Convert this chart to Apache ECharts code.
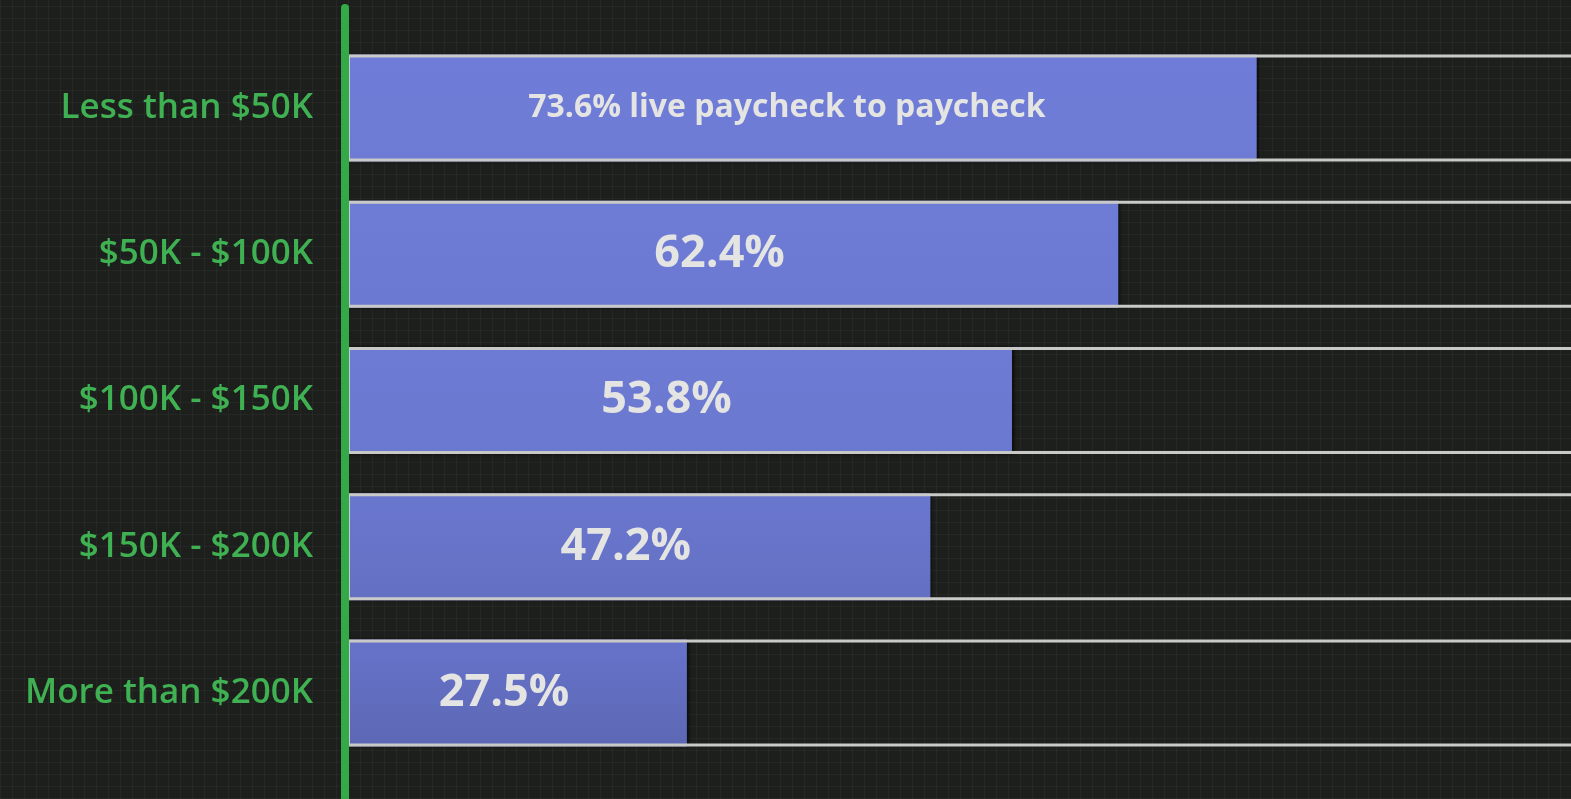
<!DOCTYPE html>
<html>
<head>
<meta charset="utf-8">
<script src="https://cdn.jsdelivr.net/npm/echarts@6/dist/echarts.min.js"></script>
<style>
  html, body { margin: 0; padding: 0; }
  body {
    width: 1571px;
    height: 799px;
    background-color: #1d1f1c;
    background-image:
      repeating-linear-gradient(0deg, rgba(255,255,255,0.035) 0 1px, transparent 1px 12px),
      repeating-linear-gradient(90deg, rgba(255,255,255,0.035) 0 1px, transparent 1px 12px);
  }
  #main { width: 1571px; height: 799px; }
</style>
</head>
<body>
<div id="main"></div>
<script>
// income brackets, top to bottom
const incomeBands = ["Less than $50K", "$50K - $100K", "$100K - $150K", "$150K - $200K", "More than $200K"];
// share living paycheck to paycheck (%)
const paycheckShare = [73.6, 62.4, 53.8, 47.2, 27.5];
// extra wording after the value, only the first bar has it
const shareNotes = [" live paycheck to paycheck", "", "", "", ""];
// full track behind each bar (100%)
const trackFull = [100, 100, 100, 100, 100];

// bar fills (top, bottom of a soft vertical gradient)
const barFills = [
  ["#707dd8", "#6e7bd5"],
  ["#6f7cd6", "#6c79d2"],
  ["#6e7bd4", "#6a78cf"],
  ["#6a77cf", "#6370c2"],
  ["#6773ca", "#5c67b4"],
];

const chart = echarts.init(document.getElementById("main"));

const barData = paycheckShare.map((v, i) => {
  const item = {
    value: v,
    itemStyle: {
      color: new echarts.graphic.LinearGradient(0, 0, 0, 1, [
        { offset: 0, color: barFills[i][0] },
        { offset: 1, color: barFills[i][1] },
      ]),
    },
  };
  if (shareNotes[i]) {
    item.label = { fontSize: 32, offset: [-15, 0] };
  }
  return item;
});

chart.setOption({
  backgroundColor: "transparent",
  animation: false,
  grid: [
    { left: 347, right: -12, top: 35, bottom: 33, outerBoundsMode: "none" },
    // only carries the long green axis line
    { left: 345, right: 0, top: 8, bottom: -5, outerBoundsMode: "none" },
  ],
  xAxis: [
    { type: "value", min: 0, max: 100, show: false, gridIndex: 0 },
    { type: "value", min: 0, max: 1, show: false, gridIndex: 1 },
  ],
  yAxis: [
    {
      type: "category",
      data: incomeBands,
      inverse: true,
      gridIndex: 0,
      axisLine: { show: false },
      axisTick: { show: false },
      splitLine: { show: false },
      axisLabel: {
        color: "#3fb152",
        fontSize: 35,
        fontWeight: 600,
        fontFamily: "Open Sans",
        margin: 34,
      },
    },
    {
      type: "value",
      gridIndex: 1,
      z: 10,
      axisLine: { show: true, lineStyle: { color: "#34a948", width: 8 } },
      axisTick: { show: false },
      axisLabel: { show: false },
      splitLine: { show: false },
    },
  ],
  series: [
    {
      type: "bar",
      xAxisIndex: 0,
      yAxisIndex: 0,
      barWidth: 107,
      z: 2,
      data: barData,
      label: {
        show: true,
        position: "inside",
        offset: [-13, 0],
        color: "#e4e4e2",
        fontSize: 45,
        fontWeight: 700,
        fontFamily: "Open Sans",
        formatter: (p) => p.value + "%" + shareNotes[p.dataIndex],
      },
      itemStyle: {
        shadowColor: "rgba(0,0,0,0.6)",
        shadowBlur: 3,
        shadowOffsetX: 2,
      },
    },
    {
      type: "bar",
      xAxisIndex: 0,
      yAxisIndex: 0,
      barWidth: 107,
      barGap: "-100%",
      z: 3,
      silent: true,
      data: trackFull,
      itemStyle: {
        color: "transparent",
        borderColor: "#c9cac8",
        borderWidth: 3,
      },
    },
  ],
});
</script>
</body>
</html>
